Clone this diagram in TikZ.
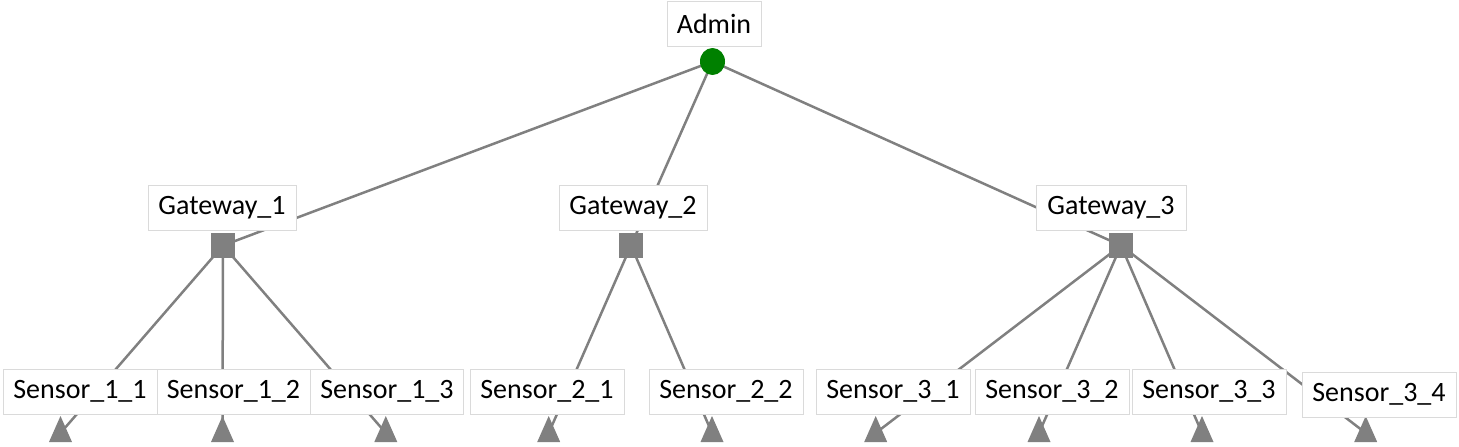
\documentclass[tikz,border=0pt]{standalone}
\usepackage{fontspec}
\setmainfont{Carlito}
\usetikzlibrary{shapes.geometric}
\definecolor{edgegray}{RGB}{128,128,128}
\definecolor{boxline}{RGB}{218,218,218}
\definecolor{rootgreen}{RGB}{0,128,0}
\tikzset{
  lbl/.style={draw=boxline, line width=1pt, fill=white, inner sep=0pt,
    minimum height=45pt, font=\fontsize{28}{30}\selectfont, text=black},
  edge/.style={draw=edgegray, line width=2.5pt},
  hub/.style={fill=edgegray, minimum width=24pt, minimum height=25pt, inner sep=0pt},
  rootmark/.style={ellipse, fill=rootgreen, minimum width=25pt, minimum height=27pt, inner sep=0pt},
  leafmark/.style={fill=edgegray}
}
\begin{document}
\begin{tikzpicture}[x=1pt,y=-1pt]
\useasboundingbox (0,0) rectangle (1459,447);
% markers positions
\coordinate (a) at (712.5,61.5);
\coordinate (g1) at (223,245.5);
\coordinate (g2) at (631,245.5);
\coordinate (g3) at (1121,245.5);
\coordinate (t11) at (60.5,433);
\coordinate (t12) at (222.5,433);
\coordinate (t13) at (385.8,433);
\coordinate (t21) at (548.7,433);
\coordinate (t22) at (712,433);
\coordinate (t31) at (875.7,433);
\coordinate (t32) at (1039,433);
\coordinate (t33) at (1202,433);
\coordinate (t34) at (1365.7,433);
% edges
\draw[edge] (a) -- (g1);
\draw[edge] (a) -- (g2);
\draw[edge] (a) -- (g3);
\draw[edge] (g1) -- (t11);
\draw[edge] (g1) -- (t12);
\draw[edge] (g1) -- (t13);
\draw[edge] (g2) -- (t21);
\draw[edge] (g2) -- (t22);
\draw[edge] (g3) -- (t31);
\draw[edge] (g3) -- (t32);
\draw[edge] (g3) -- (t33);
\draw[edge] (g3) -- (t34);
% markers
\node[rootmark] (am) at (a) {};
\node[hub] (g1m) at (g1) {};
\node[hub] (g2m) at (g2) {};
\node[hub] (g3m) at (g3) {};
\foreach \t in {t11,t12,t13,t21,t22,t31,t32,t33,t34}{
  \fill[leafmark] (\t) ++(0,-17) -- ++(-11.5,26) -- ++(23,0) -- cycle;
}
% labels
\node[lbl, minimum width=94pt] (lA) at (714,24) {Admin};
\node[lbl, minimum width=148pt] (lG1) at (222,208) {Gateway\_1};
\node[lbl, minimum width=148pt] (lG2) at (633,208) {Gateway\_2};
\node[lbl, minimum width=150pt] (lG3) at (1111,208) {Gateway\_3};
\node[lbl, minimum width=154pt] (lS11) at (80,391.5) {Sensor\_1\_1};
\node[lbl, minimum width=153pt] (lS12) at (233.5,391.5) {Sensor\_1\_2};
\node[lbl, minimum width=153pt] (lS13) at (387,391.5) {Sensor\_1\_3};
\node[lbl, minimum width=154pt] (lS21) at (547,391.5) {Sensor\_2\_1};
\node[lbl, minimum width=154pt] (lS22) at (726,391.5) {Sensor\_2\_2};
\node[lbl, minimum width=154pt] (lS31) at (893,391.5) {Sensor\_3\_1};
\node[lbl, minimum width=154pt] (lS32) at (1052,391.5) {Sensor\_3\_2};
\node[lbl, minimum width=154pt] (lS33) at (1209,391.5) {Sensor\_3\_3};
\node[lbl, minimum width=154pt] (lS34) at (1379,394.5) {Sensor\_3\_4};
\end{tikzpicture}
\end{document}
